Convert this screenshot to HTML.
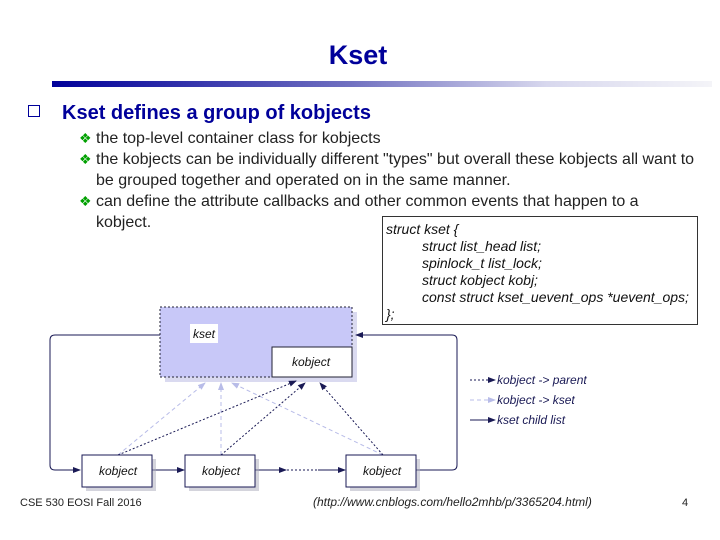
<!DOCTYPE html>
<html><head><meta charset="utf-8"><style>
body{margin:0;width:720px;height:540px;background:#fff;position:relative;overflow:hidden;font-family:"Liberation Sans",sans-serif}
.a{position:absolute;white-space:nowrap}
</style></head><body>
<div class="a" style="left:-2px;width:720px;top:40px;text-align:center;font-size:27px;font-weight:bold;color:#00009a">Kset</div>
<div class="a" style="left:52px;top:81px;width:660px;height:6px;background:linear-gradient(to right,#00009a,#7070c0 45%,#d8d8ee 75%,#f4f4f8)"></div>
<div class="a" style="left:28px;top:102px;font-size:20px;font-weight:bold;color:#00009a"><span style="display:inline-block;width:10px;height:10px;border:1px solid #00009a;margin-right:22px;vertical-align:2px"></span>Kset defines a group of kobjects</div>
<div class="a" style="left:79px;top:128px;font-size:16px;line-height:21px;color:#222">
<span style="color:#00a000;font-size:14px">❖</span> the top-level container class for kobjects<br>
<span style="color:#00a000;font-size:14px">❖</span> the kobjects can be individually different "types" but overall these kobjects all want to<br>
<span style="padding-left:17px">be grouped together and operated on in the same manner.</span><br>
<span style="color:#00a000;font-size:14px">❖</span> can define the attribute callbacks and other common events that happen to a<br>
<span style="padding-left:17px">kobject.</span></div>
<div class="a" style="left:382px;top:216px;width:314px;height:107px;border:1px solid #333;font-size:14px;font-style:italic;line-height:17px;color:#111;background:#fff">
<div style="padding:4px 0 0 3px">struct kset {<br>
<span style="padding-left:36px">struct list_head list;</span><br>
<span style="padding-left:36px">spinlock_t list_lock;</span><br>
<span style="padding-left:36px">struct kobject kobj;</span><br>
<span style="padding-left:36px">const struct kset_uevent_ops *uevent_ops;</span><br>
};</div></div>
<svg class="a" style="left:0;top:0" width="720" height="540">
<defs>
<marker id="m" markerWidth="8" markerHeight="8" refX="7" refY="4" orient="auto"><path d="M0,1L8,4L0,7z" fill="#1a1a55"/></marker>
<marker id="l" markerWidth="8" markerHeight="8" refX="7" refY="4" orient="auto"><path d="M0,1L8,4L0,7z" fill="#b8bce8"/></marker>
</defs>
<rect x="165" y="312" width="192" height="70" fill="#dadaf0"/>
<rect x="160" y="307" width="192" height="70" fill="#c8c8f8" stroke="#223" stroke-dasharray="2,2"/>
<rect x="190" y="324" width="28" height="19" fill="#fff"/>
<text x="193" y="338" font-size="12" font-style="italic" fill="#111">kset</text>
<rect x="272" y="347" width="80" height="30" fill="#fff" stroke="#223"/>
<text x="292" y="366" font-size="12" font-style="italic" fill="#111">kobject</text>
<g stroke="#b8bce8" stroke-dasharray="4,3" fill="none">
<line x1="118" y1="455" x2="205" y2="383" marker-end="url(#l)"/>
<line x1="221" y1="455" x2="221" y2="383" marker-end="url(#l)"/>
<line x1="383" y1="455" x2="232" y2="383" marker-end="url(#l)"/>
</g>
<g stroke="#1a1a55" stroke-dasharray="2,2" fill="none">
<line x1="118" y1="455" x2="296" y2="381" marker-end="url(#m)"/>
<line x1="221" y1="455" x2="305" y2="383" marker-end="url(#m)"/>
<line x1="383" y1="455" x2="320" y2="383" marker-end="url(#m)"/>
<line x1="287" y1="470" x2="318" y2="470"/>
</g>
<g stroke="#1a1a55" fill="none">
<path d="M160,335H55Q50,335 50,340V465Q50,470 55,470H80" marker-end="url(#m)"/>
<path d="M416,470H452Q457,470 457,465V340Q457,335 452,335H356" marker-end="url(#m)"/>
<line x1="152" y1="470" x2="184" y2="470" marker-end="url(#m)"/>
<line x1="255" y1="470" x2="286" y2="470" marker-end="url(#m)"/>
<line x1="318" y1="470" x2="345" y2="470" marker-end="url(#m)"/>
</g>
<g fill="#aab" opacity=".5"><rect x="86" y="459" width="70" height="32"/><rect x="189" y="459" width="70" height="32"/><rect x="350" y="459" width="70" height="32"/></g>
<g fill="#fff" stroke="#1a1a55"><rect x="82" y="455" width="70" height="32"/><rect x="185" y="455" width="70" height="32"/><rect x="346" y="455" width="70" height="32"/></g>
<g font-size="12" font-style="italic" fill="#111"><text x="99" y="475">kobject</text><text x="202" y="475">kobject</text><text x="363" y="475">kobject</text></g>
<line x1="470" y1="380" x2="495" y2="380" stroke="#1a1a55" stroke-dasharray="2,2" marker-end="url(#m)"/>
<line x1="470" y1="400" x2="495" y2="400" stroke="#b8bce8" stroke-dasharray="4,3" marker-end="url(#l)"/>
<line x1="470" y1="420" x2="495" y2="420" stroke="#1a1a55" marker-end="url(#m)"/>
<g font-size="12" font-style="italic" fill="#1a1a55"><text x="497" y="384">kobject -&gt; parent</text><text x="497" y="404">kobject -&gt; kset</text><text x="497" y="424">kset child list</text></g>
</svg>
<div class="a" style="left:20px;top:497px;font-size:11px;color:#222">CSE 530 EOSI Fall 2016</div>
<div class="a" style="left:313px;top:495px;font-size:12px;font-style:italic;color:#222">(http://www.cnblogs.com/hello2mhb/p/3365204.html)</div>
<div class="a" style="left:682px;top:497px;font-size:11px;color:#222">4</div>
</body></html>
